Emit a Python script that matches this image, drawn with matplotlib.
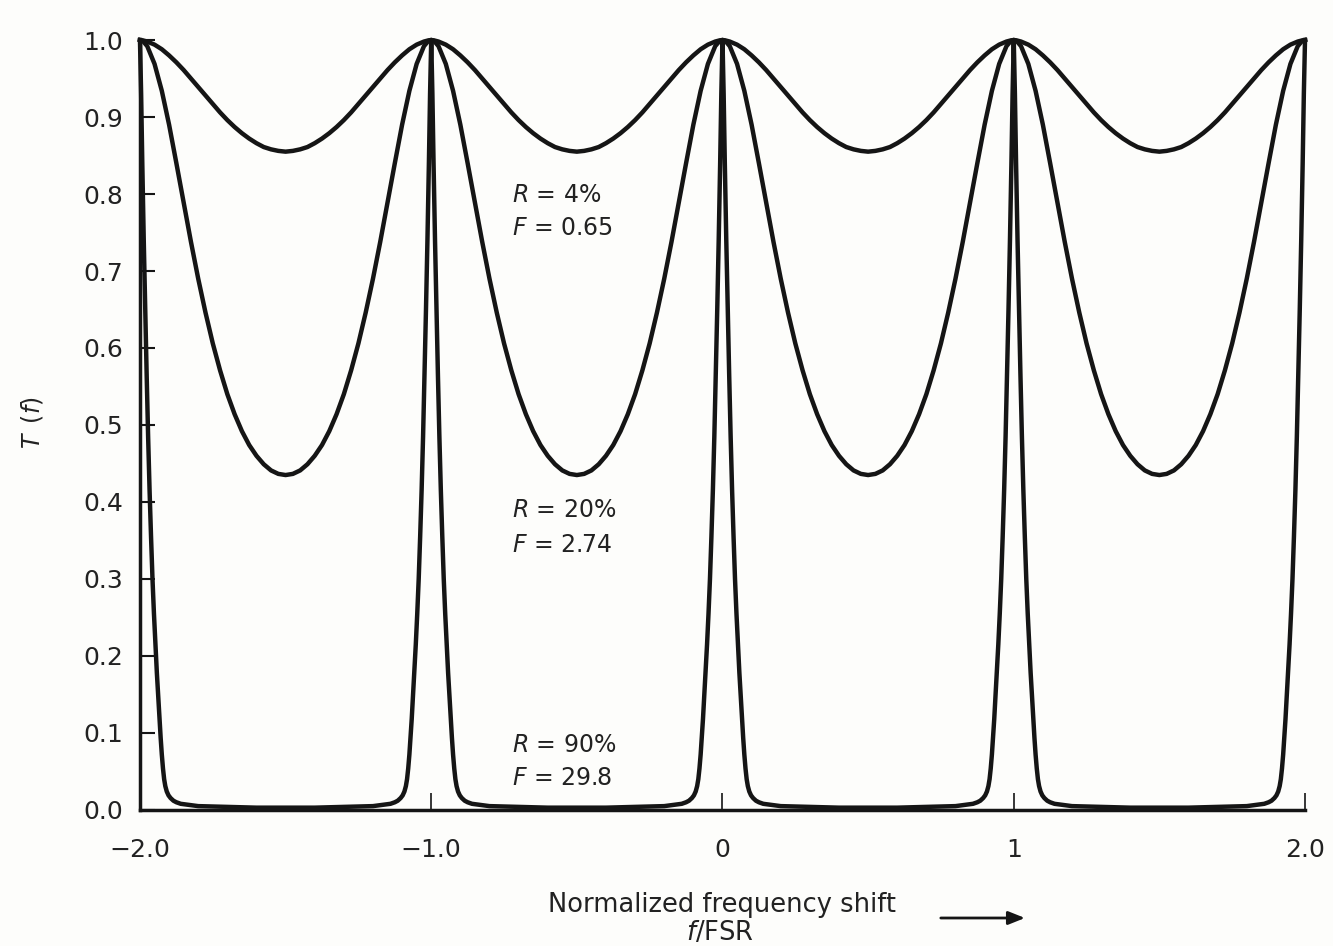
import numpy as np
import matplotlib.pyplot as plt

plt.rcParams['font.family'] = ['DejaVu Sans']
plt.rcParams['mathtext.fontset'] = 'dejavusans'

# transmission peaks sit on integer multiples of the FSR; one period per entry
peaks = [-2.0, -1.0, 0.0, 1.0]

# half-period profiles: offset from peak (f/FSR) -> T(f)
smooth_offset = [0.0, 0.01, 0.025, 0.05, 0.075, 0.10, 0.125, 0.15, 0.175, 0.20, 0.225,
                 0.25, 0.275, 0.30, 0.325, 0.35, 0.375, 0.40, 0.425, 0.45, 0.475, 0.50]
r4_T = [1.0, 0.9995, 0.998, 0.994, 0.988, 0.980, 0.971, 0.961, 0.950, 0.939, 0.928,
        0.917, 0.906, 0.896, 0.887, 0.879, 0.872, 0.866, 0.861, 0.858, 0.856, 0.855]
r20_T = [1.0, 0.9987, 0.992, 0.969, 0.934, 0.890, 0.840, 0.789, 0.738, 0.690, 0.646,
         0.606, 0.571, 0.540, 0.514, 0.492, 0.474, 0.460, 0.449, 0.441, 0.4365, 0.435]

r90_offset = [0.0, 0.004, 0.008, 0.013, 0.018, 0.023, 0.028, 0.033, 0.038, 0.043, 0.048,
              0.053, 0.058, 0.063, 0.067, 0.071, 0.075, 0.079, 0.083, 0.087, 0.092,
              0.098, 0.105, 0.115, 0.125, 0.14, 0.17, 0.20, 0.25, 0.30, 0.40, 0.50]
r90_T = [1.0, 0.93, 0.84, 0.74, 0.65, 0.565, 0.485, 0.415, 0.355, 0.30, 0.255,
         0.215, 0.178, 0.145, 0.118, 0.094, 0.072, 0.054, 0.040, 0.031, 0.024,
         0.019, 0.0155, 0.012, 0.010, 0.008, 0.0065, 0.005, 0.0045, 0.004, 0.003, 0.003]

labels = [('$R$ = 4%', '$F$ = 0.65', 0.799, 0.756),
          ('$R$ = 20%', '$F$ = 2.74', 0.390, 0.344),
          ('$R$ = 90%', '$F$ = 29.8', 0.084, 0.042)]

xticks = [-2.0, -1.0, 0.0, 1.0, 2.0]
xticklabels = ['\u22122.0', '\u22121.0', '0', '1', '2.0']
yticks = [0.0, 0.1, 0.2, 0.3, 0.4, 0.5, 0.6, 0.7, 0.8, 0.9, 1.0]


def period_curve(offset, T):
    # mirror the half profile about the mid point and repeat it for every period
    off = np.array(offset)
    t = np.array(T)
    xs, ys = [], []
    for p in peaks:
        xs.append(np.concatenate([p + off, p + 1 - off[::-1][1:]]))
        ys.append(np.concatenate([t, t[::-1][1:]]))
    return np.concatenate(xs), np.concatenate(ys)


ink = '#151515'
bg = '#fdfdfb'

fig = plt.figure(figsize=(13.33, 9.46), dpi=100, facecolor=bg)
ax = fig.add_axes([0.105, 0.1438, 0.874, 0.8139], facecolor=bg)

for off, T in [(smooth_offset, r4_T), (smooth_offset, r20_T), (r90_offset, r90_T)]:
    x, y = period_curve(off, T)
    ax.plot(x, y, color=ink, lw=3.2, solid_joinstyle='round', clip_on=False)

ax.set_xlim(-2.0, 2.0)
ax.set_ylim(0.0, 1.0)

ax.spines['top'].set_visible(False)
ax.spines['right'].set_visible(False)
for s in ['left', 'bottom']:
    ax.spines[s].set_linewidth(2.5)
    ax.spines[s].set_color(ink)

ax.set_xticks(xticks)
ax.set_xticklabels(xticklabels)
ax.set_yticks(yticks)
ax.set_yticklabels([f'{v:.1f}' for v in yticks])
ax.tick_params(axis='both', direction='in', color=ink, labelcolor='#222222', labelsize=18)
ax.tick_params(axis='x', length=12, width=1.2, pad=20)
ax.tick_params(axis='y', length=11, width=1.5, pad=12)

for r_txt, f_txt, yr, yf in labels:
    ax.text(-0.724, yr, r_txt, fontsize=17, color='#222222', va='center', ha='left')
    ax.text(-0.724, yf, f_txt, fontsize=17, color='#222222', va='center', ha='left')

fig.text(0.024, 0.553, r'$T\ \,(f)$', rotation=90, fontsize=17, color='#222222',
         va='center', ha='center')

fig.text(0.5417, 0.043, 'Normalized frequency shift', fontsize=18.5, color='#222222',
         va='center', ha='center')
fig.text(0.540, 0.0135, '$f$/FSR', fontsize=18.5, color='#222222', va='center', ha='center')
fig.add_artist(plt.matplotlib.patches.FancyArrowPatch(
    (0.7037, 0.0296), (0.771, 0.0296), transform=fig.transFigure,
    arrowstyle='-|>,head_length=10,head_width=4', color=ink, lw=2.0))

fig.savefig('out.png', dpi=100, facecolor=bg)
